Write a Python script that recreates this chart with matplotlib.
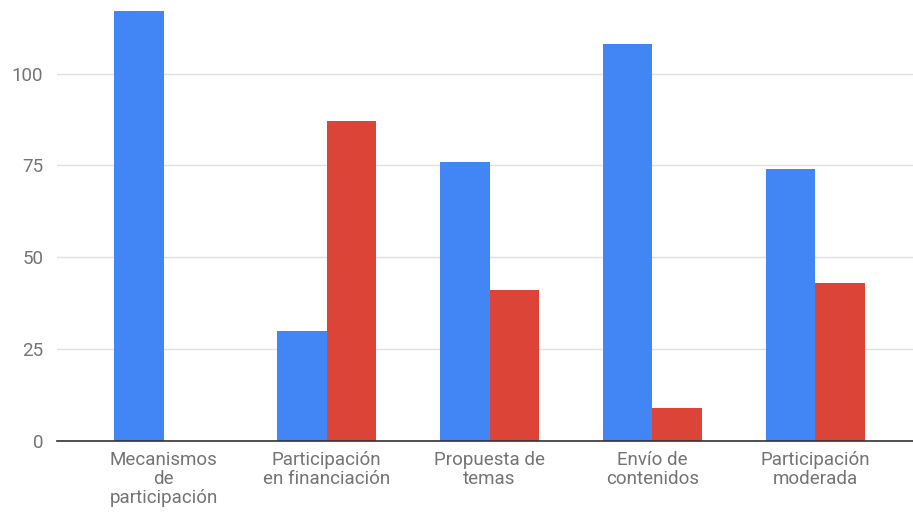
import numpy as np
import matplotlib.pyplot as plt

plt.rcParams['font.family'] = ['Roboto', 'DejaVu Sans']

categories = ['Mecanismos\nde\nparticipación', 'Participación\nen financiación',
              'Propuesta de\ntemas', 'Envío de\ncontenidos', 'Participación\nmoderada']
serie_azul = [117, 30, 76, 108, 74]
serie_roja = [0, 87, 41, 9, 43]
y_ticks = [0, 25, 50, 75, 100]

x = np.arange(len(categories))
width = 0.305

fig = plt.figure(figsize=(9.13, 5.17), dpi=100)
ax = fig.add_axes([0.0624, 0.147, 0.9376, 0.853])

ax.bar(x - width / 2, serie_azul, width, color='#4285F4', zorder=3)
ax.bar(x + width / 2, serie_roja, width, color='#DB4437', zorder=3)

ax.set_xlim(-0.656, 4.6)
ax.set_ylim(0, 120)
ax.set_yticks(y_ticks)
ax.set_xticks(x)
ax.set_xticklabels(categories, fontsize=13.5, color='#747474', linespacing=1.08)
ax.tick_params(axis='y', labelsize=13.5, labelcolor='#747474', length=0, pad=10)
ax.tick_params(axis='x', length=0, pad=7)

ax.grid(axis='y', color='#e0e0e0', linewidth=1, zorder=0)
for side in ['top', 'right', 'left']:
    ax.spines[side].set_visible(False)
ax.spines['bottom'].set_color('#333333')
ax.spines['bottom'].set_linewidth(1.2)
ax.spines['bottom'].set_zorder(4)

fig.savefig('out.png', dpi=100)
